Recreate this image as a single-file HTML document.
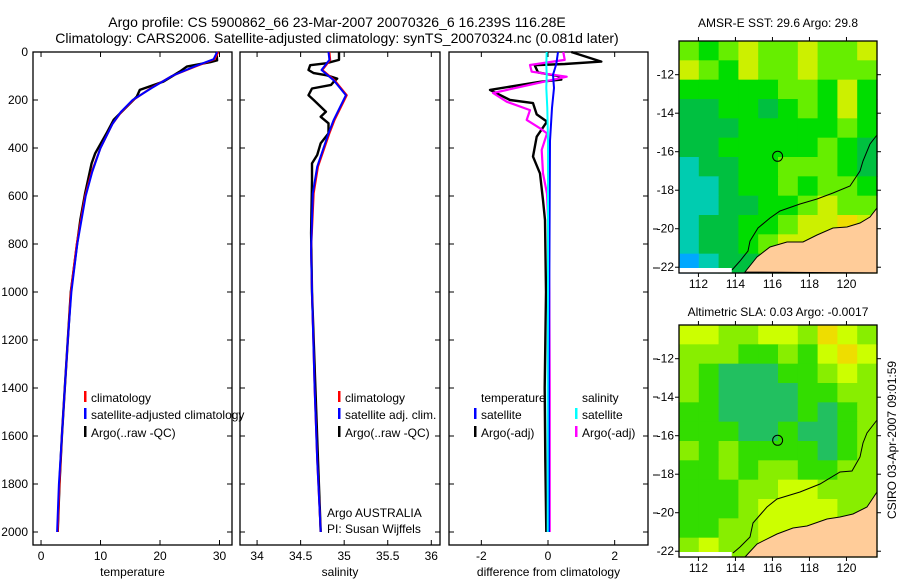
<!DOCTYPE html>
<html><head><meta charset="utf-8"><style>
body{margin:0;background:#fff;}
svg{display:block;font-family:"Liberation Sans",sans-serif;}
text{fill:#000;}
</style></head><body>
<svg id="fig" width="900" height="580" viewBox="0 0 900 580">
<text x="337" y="27" font-size="14" text-anchor="middle">Argo profile: CS 5900862_66 23-Mar-2007 20070326_6 16.239S 116.28E</text>
<text x="337" y="43" font-size="14" text-anchor="middle">Climatology: CARS2006. Satellite-adjusted climatology: synTS_20070324.nc (0.081d later)</text>
<text x="778" y="27" font-size="12" text-anchor="middle">AMSR-E SST: 29.6 Argo: 29.8</text>
<text x="778" y="316" font-size="12" text-anchor="middle">Altimetric SLA: 0.03 Argo: -0.0017</text>
<text x="0" y="0" font-size="12" text-anchor="middle" transform="translate(896,440) rotate(-90)">CSIRO 03-Apr-2007 09:01:59</text>
<text x="327" y="517" font-size="12">Argo AUSTRALIA</text>
<text x="327" y="533" font-size="12">PI: Susan Wijffels</text>
<g id="g"></g>
</svg>
<script>
// ---- depth axis ----
const depthTicks=[0,200,400,600,800,1000,1200,1400,1600,1800,2000];
// ---- temperature panel ----
const tempTicks=[0,10,20,30];
const tArgoDepth=[0,35,42,61,82,124,158,186,283,339,422,464,589,700,811,1000,1200,1400,1600,1800,2000];
const tArgo=[29.5,29.6,28.5,24.5,23.3,20.5,16.6,16.1,12.2,11.0,9.1,8.5,7.4,6.6,6.0,5.0,4.5,4.0,3.5,3.1,2.8];
const tClimDepth=[0,30,60,100,150,200,250,300,400,500,600,800,1000,1200,1400,1600,1800,2000];
const tClim=[29.8,29.2,26,22,18.5,15.5,13.5,12,10,8.5,7.4,6.0,5.0,4.5,4.0,3.5,3.1,2.8];
const tSat=[29.6,29.0,25.8,22,18.6,15.4,13.4,12,10,8.6,7.5,6.1,5.1,4.5,4.0,3.5,3.0,2.7];
// ---- salinity panel ----
const salTicks=[34,34.5,35,35.5,36];
const sArgoDepth=[0,33,47,55,75,88,97,111,124,137,152,180,200,249,270,297,339,380,429,464,533,755,1000,1400,1700,2000];
const sArgo=[34.94,34.94,34.79,34.61,34.59,34.65,34.8,34.92,34.88,34.85,34.63,34.59,34.65,34.79,34.73,34.82,34.82,34.73,34.69,34.63,34.63,34.62,34.63,34.67,34.7,34.73];
const sClimDepth=[0,33,75,118,180,283,339,478,589,825,1000,1400,1700,2000];
const sClim=[34.83,34.84,34.75,34.89,35.03,34.89,34.83,34.7,34.65,34.62,34.63,34.66,34.69,34.73];
const sSat=[34.82,34.83,34.74,34.88,35.02,34.88,34.82,34.69,34.64,34.62,34.63,34.66,34.69,34.73];
// ---- difference panel ----
const diffTicks=[-2,0,2];
const dTDepth=[0,40,50,55,85,100,115,124,158,200,213,260,290,353,436,506,617,700,1000,1400,1700,2000];
const dTArgo=[0.7,1.6,0.5,-0.4,-0.3,0.3,0.4,-0.24,-1.74,-1.14,-0.45,-0.34,-0.03,-0.34,-0.45,-0.24,-0.15,-0.09,-0.06,-0.1,-0.08,-0.05];
const dSDepth=[0,33,54,82,103,171,207,242,283,318,339,408,506,590,685,1000,1400,2000];
const dSArgo=[0.46,0.5,-0.54,-0.49,0.56,-1.65,-1.24,-0.54,-0.64,-0.24,-0.03,-0.19,-0.15,-0.03,0.0,0.04,0.05,0.05];
const dSatDepth=[0,50,95,150,233,370,600,1000,1400,2000];
const dTSat=[0.3,0.25,0.15,0.18,0.12,0.06,0.05,0.04,0.03,0.03];
const dSSat=[-0.04,-0.05,-0.04,-0.05,-0.02,0.0,0.0,0.0,-0.01,-0.01];
// ---- maps (colour class per grid cell, rows north->south) ----
const sstGrid=["3234334334","4324334333","2222233242","1122123242","1112222232","1122222321","0112233321","0012232332","0011223433","0112234454","0112344554","A011233444"];
const slaGrid=["4433443543","3332232454","3211122343","3211112233","2211112123","2221121123","3232222123","2232332233","2223344333","2223444433","2233444444","3433444444"];
const mapLat=[-12,-14,-16,-18,-20,-22];
const mapLon=[112,114,116,118,120];
const argoLat=-16.239, argoLon=116.28;

const NS="http://www.w3.org/2000/svg";
const G=document.getElementById('g');
function el(tag,at,parent){const e=document.createElementNS(NS,tag);for(const k in at)e.setAttribute(k,at[k]);(parent||G).appendChild(e);return e;}
const PT=52,PB=545,yD=d=>52+d*0.24;
const panels=[
 {x0:33,x1:232,min:-1.35,max:32.1,ticks:tempTicks,label:"temperature",name:"temperature"},
 {x0:240,x1:440,min:33.804,max:36.1,ticks:salTicks,label:"salinity",name:"salinity"},
 {x0:449,x1:648,min:-2.97,max:3.0,ticks:diffTicks,label:"difference from climatology",name:"difference"}];
panels.forEach(p=>{p.sx=v=>p.x0+(v-p.min)/(p.max-p.min)*(p.x1-p.x0);});
panels.forEach((p,i)=>{
 const fr=el('rect',{x:p.x0,y:PT,width:p.x1-p.x0,height:PB-PT,fill:'none',stroke:'#000','stroke-width':1.3});
 
 
 p.ticks.forEach(t=>{const x=p.sx(t);
  el('line',{x1:x,y1:PT,x2:x,y2:PT+5,stroke:'#000'});el('line',{x1:x,y1:PB,x2:x,y2:PB-5,stroke:'#000'});
  const tl=el('text',{x:x,y:PB+15,'font-size':12,'text-anchor':'middle'});tl.textContent=t;
  
  });
 depthTicks.forEach(d=>{const y=yD(d);
  el('line',{x1:p.x0,y1:y,x2:p.x0+5,y2:y,stroke:'#000'});el('line',{x1:p.x1,y1:y,x2:p.x1-5,y2:y,stroke:'#000'});
  if(i==0){const tl=el('text',{x:28,y:y+4,'font-size':12,'text-anchor':'end'});tl.textContent=d;
   
   }});
 const xl=el('text',{x:(p.x0+p.x1)/2,y:576,'font-size':12,'text-anchor':'middle'});xl.textContent=p.label;
 
 
});
function line(p,vals,depths,color,w,name,dash){
 const pts=vals.map((v,k)=>p.sx(v).toFixed(1)+','+yD(depths[k]).toFixed(1)).join(' ');
 const l=el('polyline',{points:pts,fill:'none',stroke:color,'stroke-width':w,'stroke-linejoin':'round'});
 if(dash)l.setAttribute('stroke-dasharray',dash);
 
 }
const [P1,P2,P3]=panels;
line(P1,tArgo,tArgoDepth,'#000',2.4,'temperature-argo-line');
line(P1,tClim,tClimDepth,'#f00',2,'temperature-climatology-line');
line(P1,tSat,tClimDepth,'#00f',2,'temperature-satellite-line');
line(P2,sArgo,sArgoDepth,'#000',2.4,'salinity-argo-line');
line(P2,sClim,sClimDepth,'#f00',2,'salinity-climatology-line');
line(P2,sSat,sClimDepth,'#00f',2,'salinity-satellite-line');
line(P3,dTArgo,dTDepth,'#000',2.4,'diff-temperature-argo-line');
line(P3,dSArgo,dSDepth,'#f0f',2.2,'diff-salinity-argo-line');
line(P3,dTSat,dSatDepth,'#00f',2,'diff-temperature-satellite-line');
line(P3,dSSat,dSatDepth,'#0ff',2,'diff-salinity-satellite-line');
// right-side small ticks
[229,268,359,397,436,475,513].forEach(y=>el('line',{x1:653,y1:y,x2:658,y2:y,stroke:'#000'}));
// legends
function leg(x,y,color,txt,name){
 if(color){const b=el('rect',{x:x-7,y:y-11,width:2.5,height:11,fill:color});
  
  }
 const t=el('text',{x:x,y:y,'font-size':12});t.textContent=txt;
 
 }
leg(91,402,'#f00','climatology','legend-climatology');
leg(91,419,'#00f','satellite-adjusted climatology','legend-satellite-adjusted');
leg(91,437,'#000','Argo(..raw -QC)','legend-argo');
leg(345,402,'#f00','climatology','legend-sal-climatology');
leg(345,419,'#00f','satellite adj. clim.','legend-sal-satellite');
leg(345,437,'#000','Argo(..raw -QC)','legend-sal-argo');
leg(481,402,null,'temperature','legend-temperature-heading');
leg(481,419,'#00f','satellite','legend-diff-temp-satellite');
leg(481,437,'#000','Argo(-adj)','legend-diff-temp-argo');
leg(582,402,null,'salinity','legend-salinity-heading');
leg(582,419,'#0ff','satellite','legend-diff-sal-satellite');
leg(582,437,'#f0f','Argo(-adj)','legend-diff-sal-argo');
// maps
const sstCol={A:'#00a8ff','0':'#00ccb0','1':'#00c040','2':'#00dd00','3':'#66ee00','4':'#ccf000','5':'#eedd00'};
const slaCol={'1':'#22c060','2':'#33dd00','3':'#88ee00','4':'#ccff00','5':'#eedd00'};
function drawMap(top,bottom,grid,cols,name,land,contour){
 const L=679,R=877,lon0=110.95,lon1=121.65,lat0=-10.25,lat1=-22.3;
 const sx=v=>L+(v-lon0)/(lon1-lon0)*(R-L), sy=v=>top+(v-lat0)/(lat1-lat0)*(bottom-top);
 const nr=grid.length,nc=grid[0].length,cw=(R-L)/nc,ch=(bottom-top)/nr;
 const gg=el('g',{});
 grid.forEach((row,r)=>{for(let c=0;c<nc;c++){el('rect',{x:L+c*cw,y:top+r*ch,width:cw+0.6,height:ch+0.6,fill:cols[row[c]]},gg);}});
 const lp=el('polygon',{points:land.map(q=>q[0]+','+(q[1]+top)).join(' '),fill:'#ffcc99',stroke:'#000','stroke-width':1});
 
 const cp=el('polyline',{points:contour.map(q=>q[0]+','+(q[1]+top)).join(' '),fill:'none',stroke:'#000','stroke-width':1});
 
 el('rect',{x:L,y:bottom-5,width:sx(113.8)-L,height:5,fill:'#fff'});
 const fr=el('rect',{x:L,y:top,width:R-L,height:bottom-top,fill:'none',stroke:'#000','stroke-width':1.3});
 
 mapLat.forEach(v=>{const y=sy(v);el('line',{x1:L-4,y1:y,x2:L,y2:y,stroke:'#000'});el('line',{x1:R,y1:y,x2:R+4,y2:y,stroke:'#000'});
  const t=el('text',{x:L-5,y:y+4,'font-size':12,'text-anchor':'end'});t.textContent=v;
  });
 mapLon.forEach(v=>{const x=sx(v);el('line',{x1:x,y1:top-4,x2:x,y2:top,stroke:'#000'});el('line',{x1:x,y1:bottom,x2:x,y2:bottom+4,stroke:'#000'});
  const t=el('text',{x:x,y:bottom+15,'font-size':12,'text-anchor':'middle'});t.textContent=v;
  });
 const ci=el('circle',{cx:sx(argoLon),cy:sy(argoLat),r:5,fill:'none',stroke:'#000','stroke-width':1});
 
}
drawMap(41,273,sstGrid,sstCol,'sst-map',
 [[745,231],[757,216],[770,206],[787,201],[803,201],[817,194],[833,187],[847,186],[860,182],[870,176],[877,167],[877,232]],
 [[732,229],[740,220],[748,210],[750,200],[758,187],[770,177],[780,170],[800,163],[817,158],[833,152],[850,145],[860,130],[863,120],[870,103],[877,94]]);
drawMap(325,557,slaGrid,slaCol,'sla-map',
 [[745,232],[757,219],[777,209],[793,203],[807,201],[827,194],[840,192],[853,189],[867,182],[877,167],[877,232]],
 [[733,228],[740,222],[750,212],[753,198],[767,182],[777,174],[800,167],[820,159],[840,147],[852,146],[860,132],[863,118],[867,108],[877,95]]);
</script>
</body></html>
